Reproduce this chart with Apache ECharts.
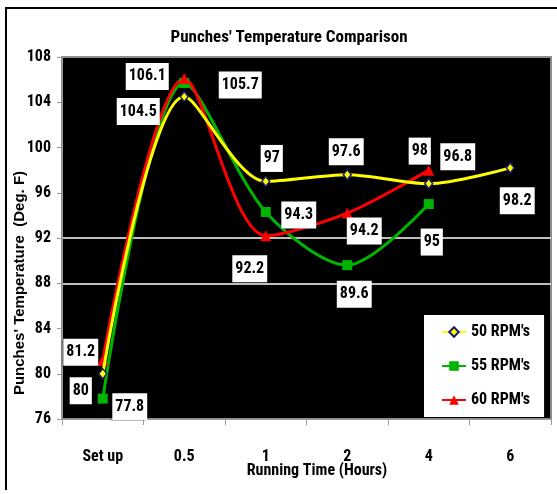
<!DOCTYPE html>
<html>
<head>
<meta charset="utf-8">
<script src="https://cdn.jsdelivr.net/npm/echarts@6/dist/echarts.min.js"></script>
<style>
html,body{margin:0;padding:0;background:#fff;}
#c{width:557px;height:494px;}
</style>
</head>
<body>
<div id="c"></div>
<script>
var categories = ['Set up', '0.5', '1', '2', '4', '6'];
var rpm50 = [80, 104.5, 97, 97.6, 96.8, 98.2];
var rpm55 = [77.8, 105.7, 94.3, 89.6, 95, '-'];
var rpm60 = [81.2, 106.1, 92.2, 94.2, 98, '-'];
var yTicks = {min: 76, max: 108, interval: 4};

// label offsets (pixels) for each data label
var off50 = [[-22, 17], [-46, 15], [6, -23], [-1, -23], [29, -27], [7, 33]];
var off55 = [[27, 8], [56, 2], [33, 3], [7, 29], [3, 38]];
var off60 = [[-22, -8], [-37, -2], [-16, 33], [17, 18], [-9, -19]];

var FONT = "'Roboto Condensed', 'Liberation Sans', sans-serif";

function build(vals, offs) {
  return vals.map(function (v, i) {
    if (v === '-') return '-';
    return {value: v, label: {offset: offs[i]}};
  });
}

var labelStyle = {
  show: true,
  position: 'inside',
  color: '#000',
  fontFamily: FONT,
  fontWeight: 'bold',
  fontSize: 16,
  backgroundColor: '#fff',
  padding: [6, 3, 5, 3],
  shadowColor: 'rgba(0,0,0,0.35)',
  shadowOffsetX: -2,
  shadowOffsetY: 1,
  shadowBlur: 1
};

var chart = echarts.init(document.getElementById('c'), null, {renderer: 'canvas'});
chart.setOption({
  animation: false,
  backgroundColor: '#fff',
  title: {
    text: "Punches' Temperature Comparison",
    left: 284, top: 24, textAlign: 'center',
    textStyle: {fontFamily: FONT, fontWeight: 'bold', fontSize: 17, color: '#000'}
  },
  grid: {
    left: 62, top: 57, right: 6, bottom: 75,
    show: true, backgroundColor: '#000', borderColor: '#8c8c8c', borderWidth: 2
  },
  legend: {
    orient: 'vertical',
    left: 424, top: 315,
    backgroundColor: '#fff',
    padding: [9, 14, 9, 17],
    itemGap: 18,
    itemWidth: 24, itemHeight: 12,
    textStyle: {fontFamily: FONT, fontWeight: 'bold', fontSize: 16, color: '#000'},
    data: ["50 RPM's", "55 RPM's", "60 RPM's"]
  },
  xAxis: {
    type: 'category',
    data: categories,
    boundaryGap: true,
    axisLine: {show: true, lineStyle: {color: '#999', width: 1}},
    axisTick: {show: true, length: 6, lineStyle: {color: '#999'}},
    axisLabel: {margin: 30, color: '#000', fontFamily: FONT, fontWeight: 'bold', fontSize: 16},
    splitLine: {show: false}
  },
  yAxis: {
    type: 'value',
    min: yTicks.min, max: yTicks.max, interval: yTicks.interval,
    axisLine: {show: true, lineStyle: {color: '#999', width: 1}},
    axisTick: {show: true, length: 5, lineStyle: {color: '#999'}},
    axisLabel: {margin: 11, color: '#000', fontFamily: FONT, fontWeight: 'bold', fontSize: 16},
    splitLine: {show: true, lineStyle: {width: 1.5, color: ['rgba(0,0,0,0)', 'rgba(0,0,0,0)', 'rgba(0,0,0,0)', '#fff', '#fff', 'rgba(0,0,0,0)', 'rgba(0,0,0,0)', 'rgba(0,0,0,0)', 'rgba(0,0,0,0)']}}
  },
  graphic: [
    {type: 'line', shape: {x1: 5, y1: 8, x2: 557, y2: 8}, style: {stroke: '#000', lineWidth: 2}},
    {type: 'line', shape: {x1: 6, y1: 8, x2: 6, y2: 490}, style: {stroke: '#000', lineWidth: 2}},
    {type: 'text', x: 20, y: 283, rotation: Math.PI / 2,
      style: {text: "Punches' Temperature  (Deg. F)", fill: '#000', font: "bold 15px 'Liberation Sans', sans-serif", align: 'center', verticalAlign: 'middle'}},
    {type: 'text', x: 317, y: 471,
      style: {text: 'Running Time (Hours)', fill: '#000', font: 'bold 16px ' + FONT, align: 'center', verticalAlign: 'middle'}}
  ],
  series: [
    {
      name: "50 RPM's", type: 'line', smooth: 0.3,
      data: build(rpm50, off50),
      symbol: 'diamond', symbolSize: [8, 10],
      lineStyle: {color: '#ffff00', width: 3},
      itemStyle: {color: '#ffff00', borderColor: '#1c1c70', borderWidth: 1.5},
      label: labelStyle, z: 3
    },
    {
      name: "55 RPM's", type: 'line', smooth: 0.3,
      data: build(rpm55, off55),
      symbol: 'rect', symbolSize: 10,
      lineStyle: {color: '#00b400', width: 3},
      itemStyle: {color: '#00b400'},
      label: labelStyle, z: 2
    },
    {
      name: "60 RPM's", type: 'line', smooth: 0.3,
      data: build(rpm60, off60),
      symbol: 'triangle', symbolSize: 11,
      lineStyle: {color: '#ff0000', width: 3},
      itemStyle: {color: '#ff0000'},
      label: labelStyle, z: 2
    }
  ]
});
</script>
</body>
</html>
